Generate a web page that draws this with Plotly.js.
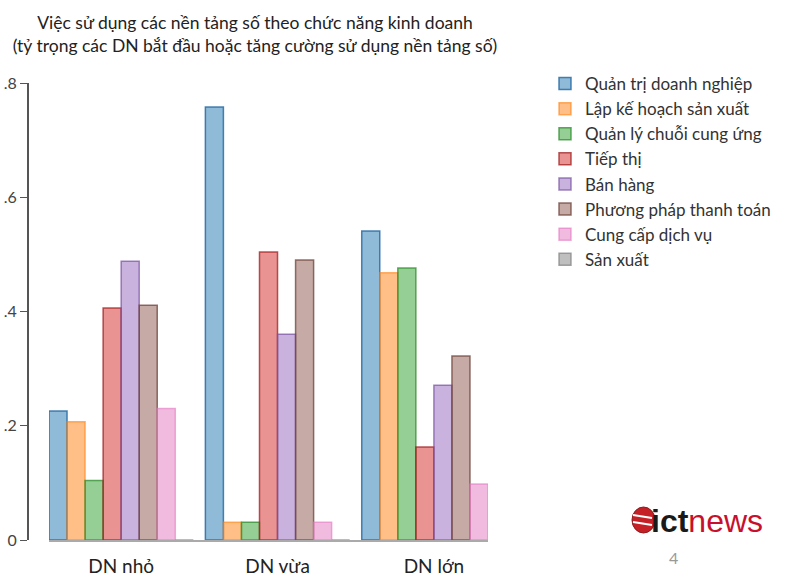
<!DOCTYPE html>
<html>
<head>
<meta charset="utf-8">
<script src="https://cdn.plot.ly/plotly-3.0.1.min.js"></script>
<style>html,body{margin:0;padding:0;background:#fff;}#chart{width:799px;height:578px;}</style>
</head>
<body>
<div id="chart"></div>
<script>
// ---- data ----
const categories = ["DN nhỏ", "DN vừa", "DN lớn"];
const seriesNames = ["Quản trị doanh nghiệp", "Lập kế hoạch sản xuất", "Quản lý chuỗi cung ứng", "Tiếp thị", "Bán hàng", "Phương pháp thanh toán", "Cung cấp dịch vụ", "Sản xuất"];
const quanTri   = [0.226, 0.758, 0.541];
const lapKeHoach = [0.207, 0.031, 0.468];
const chuoiCungUng = [0.104, 0.031, 0.476];
const tiepThi   = [0.406, 0.504, 0.163];
const banHang   = [0.488, 0.360, 0.271];
const thanhToan = [0.411, 0.490, 0.322];
const dichVu    = [0.230, 0.031, 0.098];
const sanXuat   = [0, 0, 0];
const yTickVals = [0, 0.2, 0.4, 0.6, 0.8];
const yTickText = ["0", ".2", ".4", ".6", ".8"];
const seriesValues = [quanTri, lapKeHoach, chuoiCungUng, tiepThi, banHang, thanhToan, dichVu, sanXuat];

// ---- styles ----
const fills = ["rgba(31,119,180,0.5)", "rgba(255,127,14,0.5)", "rgba(44,160,44,0.5)", "rgba(214,39,40,0.5)", "rgba(148,103,189,0.5)", "rgba(140,86,75,0.5)", "rgba(227,119,194,0.5)", "rgba(127,127,127,0.5)"];
const lines = ["rgba(31,100,160,0.8)", "rgba(255,127,14,0.6)", "rgba(44,140,44,0.75)", "rgba(160,30,30,0.75)", "rgba(120,80,160,0.7)", "rgba(110,66,58,0.75)", "rgba(227,119,194,0.6)", "rgba(127,127,127,0.7)"];

const traces = seriesNames.map((name, i) => ({
  type: "bar",
  name: name,
  x: [0, 1, 2],
  y: seriesValues[i],
  marker: { color: fills[i], line: { color: lines[i], width: 1.5 } },
  hoverinfo: "skip"
}));

const W = 799, H = 578, ML = 27, MR = 0, MT = 83, MB = 38;
const PW = W - ML - MR, PH = H - MT - MB;
const px = v => (v - ML) / PW;
const py = v => (H - MB - v) / PH;

const layout = {
  width: W, height: H,
  margin: { l: ML, r: MR, t: MT, b: MB },
  paper_bgcolor: "#fff", plot_bgcolor: "#fff",
  font: { family: "Lato, 'Open Sans', sans-serif", color: "#222" },
  title: {
    text: "Việc sử dụng các nền tảng số theo chức năng kinh doanh<br>(tỷ trọng các DN bắt đầu hoặc tăng cường sử dụng nền tảng số)",
    font: { size: 17.5, color: "#222", family: "Lato, 'Open Sans', sans-serif" },
    x: 255 / W, xanchor: "center", xref: "container",
    y: 1 - 29 / H, yanchor: "middle", yref: "container"
  },
  barmode: "group",
  bargap: 0.077,
  bargroupgap: 0,
  showlegend: true,
  legend: {
    x: px(545), xanchor: "left", y: py(66), yanchor: "top",
    font: { size: 17, color: "#333" },
    bgcolor: "rgba(0,0,0,0)", tracegroupgap: 0, itemclick: false
  },
  xaxis: {
    domain: [px(49), px(488)],
    range: [-0.4615, 2.346],
    tickvals: [0, 1, 2], ticktext: categories,
    showline: true, linecolor: "#aaa", linewidth: 1.5,
    ticks: "", showgrid: false, zeroline: false,
    ticklabelstandoff: 9,
    tickfont: { size: 19, color: "#222" },
    fixedrange: true
  },
  yaxis: {
    anchor: "free", position: 0,
    range: [0, 0.8],
    tickvals: yTickVals, ticktext: yTickText,
    showline: true, linecolor: "#555", linewidth: 1.5,
    ticks: "outside", ticklen: 7, tickcolor: "#555", tickwidth: 1,
    showgrid: false, zeroline: false,
    tickfont: { size: 16, color: "#444" },
    fixedrange: true
  },
  shapes: [
    { type: "circle", xref: "paper", yref: "paper", x0: px(632), x1: px(655), y0: py(533), y1: py(507), fillcolor: "#c42026", line: { color: "#8a1a1d", width: 1 } },
    { type: "line", xref: "paper", yref: "paper", x0: px(633), x1: px(652), y0: py(515), y1: py(518), line: { color: "#fff", width: 2 } },
    { type: "line", xref: "paper", yref: "paper", x0: px(633), x1: px(652), y0: py(522), y1: py(525), line: { color: "#fff", width: 2 } }
  ],
  annotations: [
    { xref: "paper", yref: "paper", x: px(649), y: py(521), xanchor: "left", yanchor: "middle",
      text: "<b>ict</b><span style='color:#c8102e'>news</span>", showarrow: false,
      font: { size: 32, color: "#1a1a1a", family: "'Liberation Sans', Arial, sans-serif" } },
    { xref: "paper", yref: "paper", x: px(673), y: py(557), xanchor: "center", yanchor: "middle",
      text: "4", showarrow: false, font: { size: 16, color: "#999" } }
  ]
};

Plotly.newPlot("chart", traces, layout, { displayModeBar: false, staticPlot: true });
</script>
</body>
</html>
